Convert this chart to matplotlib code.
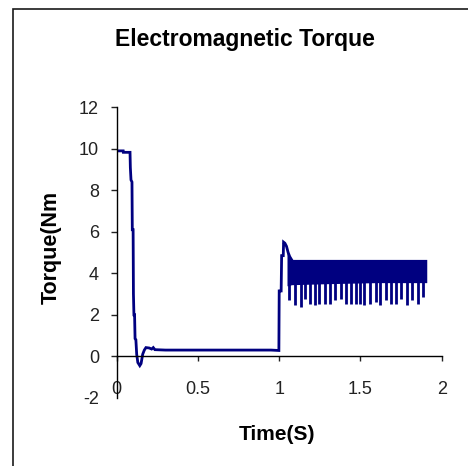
import numpy as np
import matplotlib
matplotlib.use('Agg')
import matplotlib.pyplot as plt
from matplotlib.patches import Rectangle

# main torque trace (start-up transient, then load step at t=1 s)
time_s = [0.000, 0.040, 0.041, 0.082, 0.084, 0.088, 0.094, 0.096, 0.101, 0.103,
          0.106, 0.110, 0.113, 0.118, 0.123, 0.130, 0.142, 0.150, 0.160, 0.170,
          0.180, 0.200, 0.215, 0.225, 0.235, 0.300, 0.450, 0.600, 0.800, 0.950,
          0.998, 1.000, 1.012, 1.015, 1.025, 1.027, 1.035, 1.045, 1.055, 1.065,
          1.075]
torque = [9.90, 9.90, 9.83, 9.83, 9.10, 8.50, 8.40, 6.10, 6.10, 3.00,
          2.00, 2.00, 0.85, 0.80, 0.10, -0.30, -0.45, -0.35, 0.10, 0.30,
          0.42, 0.40, 0.35, 0.42, 0.32, 0.30, 0.30, 0.30, 0.30, 0.30,
          0.28, 3.15, 3.15, 4.85, 4.85, 5.50, 5.45, 5.30, 5.00, 4.80,
          4.67]

# ripple band after the load step
band_t = [1.048, 1.060, 1.075, 1.300, 1.600, 1.908]
band_hi = [5.20, 4.90, 4.67, 4.67, 4.67, 4.67]
band_lo = [3.40, 3.40, 3.45, 3.50, 3.55, 3.55]

# downward ripple spikes
spike_t = [1.062, 1.097, 1.132, 1.159, 1.190, 1.220, 1.247, 1.282, 1.313, 1.343,
           1.378, 1.409, 1.440, 1.470, 1.497, 1.524, 1.559, 1.594, 1.620, 1.655,
           1.688, 1.717, 1.750, 1.785, 1.819, 1.852, 1.883]
spike_lo = [2.70, 2.46, 2.38, 2.78, 2.54, 2.46, 2.54, 2.54, 2.54, 2.70,
            2.78, 2.54, 2.54, 2.54, 2.54, 2.46, 2.54, 2.62, 2.46, 2.70,
            2.54, 2.54, 2.78, 2.46, 2.70, 2.54, 2.86]
spike_top = 4.0

x_ticks = [0, 0.5, 1, 1.5, 2]
x_labels = ['0', '0.5', '1', '1.5', '2']
y_ticks = [-2, 0, 2, 4, 6, 8, 10, 12]

plt.rcParams['font.family'] = ['Liberation Sans', 'DejaVu Sans']
plt.rcParams['axes.unicode_minus'] = False

navy = '#000080'

fig = plt.figure(figsize=(4.68, 4.66), dpi=100)
fig.patch.set_facecolor('white')

# outer chart frame
fig.patches.append(Rectangle((13/468, -0.1), 1.1, 1.1 - 9/466,
                             transform=fig.transFigure, fill=False,
                             edgecolor='#1a1a1a', linewidth=1.2))

ax = fig.add_axes([116.7/468, 1 - 397.8/466, 325/468, 290.5/466])
ax.set_facecolor('none')

ax.plot(time_s, torque, color=navy, linewidth=2.0, solid_joinstyle='miter')
ax.fill_between(band_t, band_lo, band_hi, color=navy, linewidth=0)
ax.vlines(spike_t, spike_lo, spike_top, color=navy, linewidth=2.0)

ax.set_xlim(0, 2)
ax.set_ylim(-2, 12)

ax.spines['top'].set_visible(False)
ax.spines['right'].set_visible(False)
ax.spines['bottom'].set_position(('data', 0))
ax.spines['left'].set_linewidth(1.0)
ax.spines['bottom'].set_linewidth(1.0)

ax.set_xticks(x_ticks)
ax.set_xticklabels(x_labels)
ax.set_yticks(y_ticks)
ax.tick_params(axis='x', direction='out', length=3.5, width=1.0, pad=14,
               labelsize=13, colors='#222222')
ax.tick_params(axis='y', direction='out', length=4.2, width=1.0, pad=8.5,
               labelsize=13, colors='#222222')
ax.yaxis.get_major_ticks()[0].tick1line.set_visible(False)

fig.text(245/468, 1 - 39.5/466, 'Electromagnetic Torque', ha='center',
         va='center', fontsize=16.5, fontweight='bold')
fig.text(51.7/468, 1 - 247.5/466, 'Torque(Nm', ha='center', va='center',
         rotation=90, fontsize=15.5, fontweight='bold')
fig.text(277/468, 1 - 434/466, 'Time(S)', ha='center', va='center',
         fontsize=15, fontweight='bold')

plt.savefig('out.png', dpi=100)
